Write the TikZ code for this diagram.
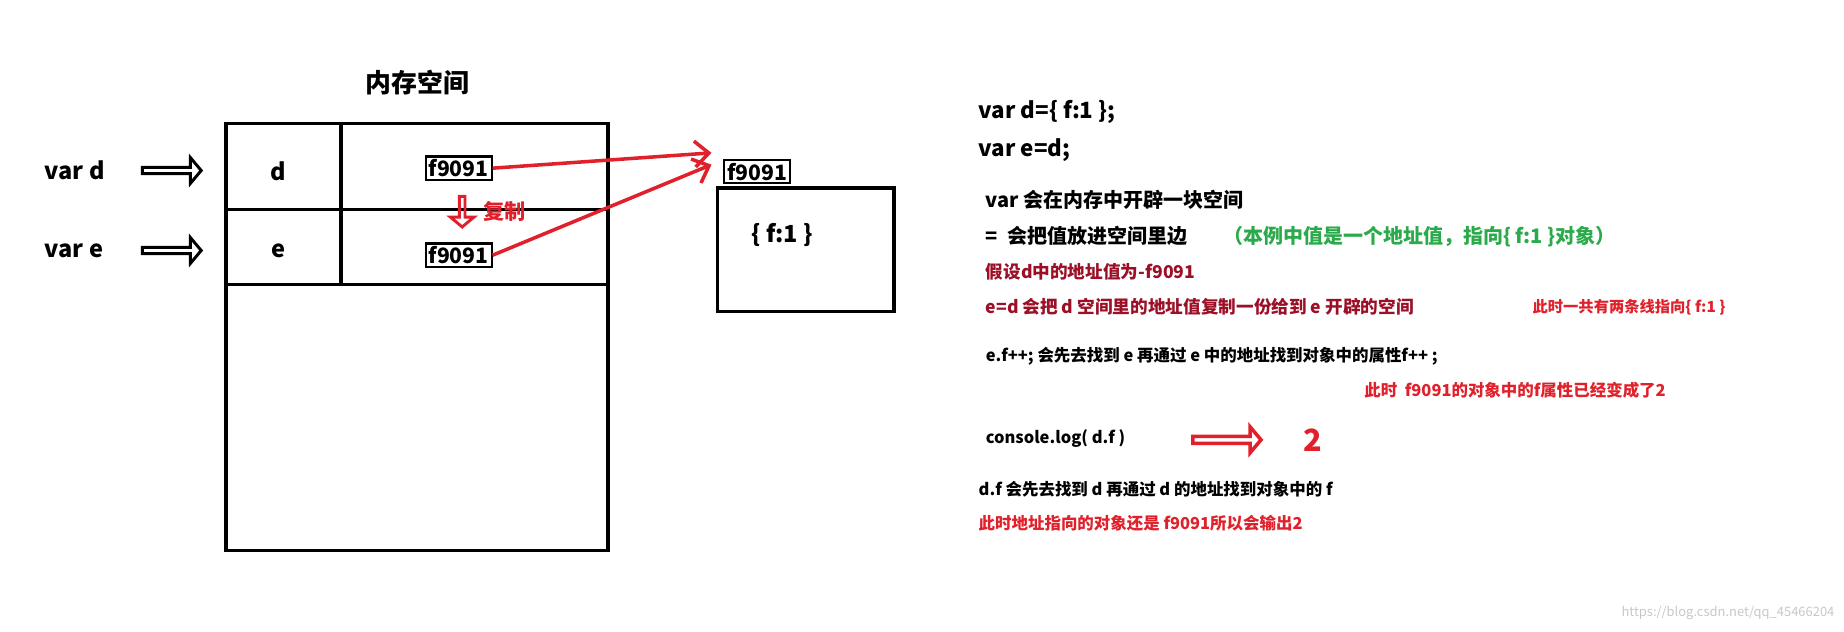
\documentclass[tikz,border=0pt]{standalone}
\usepackage{fontspec}
\setmainfont{Noto Sans CJK SC}
\usetikzlibrary{shapes.arrows,arrows.meta}
\definecolor{jsred}{HTML}{E0202A}
\definecolor{jsdark}{HTML}{9B1027}
\definecolor{jsgreen}{HTML}{2AAA4A}
\tikzset{
  txt/.style={anchor=west, inner sep=0pt, font=\bfseries\fontsize{#1}{#1}\selectfont},
  addr/.style={draw, line width=1.8pt, inner sep=2.5pt, font=\bfseries\fontsize{18}{18}\selectfont},
  hollow/.style={draw=#1, line width=2.5pt, single arrow, single arrow head extend=4pt, single arrow tip angle=100, minimum height=50pt, minimum width=22pt, inner sep=0pt},
  link/.style={jsred, line width=3pt, -{Straight Barb[length=12pt,width=22pt]}}
}
\begin{document}
\begin{tikzpicture}[x=1pt,y=-1pt]
\useasboundingbox (0,0) rectangle (1568,537);
% memory space
\node[font=\bfseries\fontsize{22}{22}\selectfont] (title) at (355,70) {内存空间};
\draw[line width=3pt] (192,105) rectangle (517,468);
\draw[line width=3pt] (192,178) -- (517,178) (192,242) -- (517,242) (290,105) -- (290,242);
\node[font=\bfseries\fontsize{20}{20}\selectfont] (d) at (237,146) {d};
\node[font=\bfseries\fontsize{20}{20}\selectfont] (e) at (237,213) {e};
\node[addr] (ad) at (390,143) {f9091};
\node[addr] (ae) at (390,217) {f9091};
\node[txt=20] (vard) at (38,145) {var d};
\node[txt=20] (vare) at (38,213) {var e};
\node[hollow=black] (pd) at (145,145) {};
\node[hollow=black] (pe) at (145,213) {};
\node[hollow=jsred, minimum height=26pt, minimum width=20pt, rotate=-90] (cp) at (393,179) {};
\node[txt=18, text=jsred] (copy) at (411,180) {复制};
% object
\node[addr] (obj) at (644,146) {f9091};
\draw[line width=3pt] (610,160) rectangle (760,265);
\node[font=\bfseries\fontsize{20}{20}\selectfont] (val) at (665,200) {\{ f:1 \}};
\draw[link] (ad.east) -- (605,130);
\draw[link] (ae.east) -- (605,140);
% notes
\node[txt=19] (l1) at (832,95) {var d=\{ f:1 \};};
\node[txt=19] (l2) at (832,128) {var e=d;};
\node[txt=17] (l3) at (838,170) {var 会在内存中开辟一块空间};
\node[txt=17] (l4) at (838,201) {= \ 会把值放进空间里边};
\node[txt=17, text=jsgreen] (l4b) at (1040,201) {（本例中值是一个地址值，指向\{ f:1 \}对象）};
\node[txt=15, text=jsdark] (l5) at (838,231) {假设d中的地址值为-f9091};
\node[txt=15, text=jsdark] (l6) at (838,261) {e=d 会把 d 空间里的地址值复制一份给到 e 开辟的空间};
\node[txt=13, text=jsred] (l6b) at (1303,261) {此时一共有两条线指向\{ f:1 \}};
\node[txt=14] (l7) at (838,303) {e.f++; 会先去找到 e 再通过 e 中的地址找到对象中的属性f++ ;};
\node[txt=14, text=jsred] (l8) at (1160,332) {此时 \ f9091的对象中的f属性已经变成了2};
\node[txt=14] (l9) at (838,373) {console.log( d.f )};
\node[hollow=jsred, line width=3pt, minimum height=58pt, minimum width=22pt] (out) at (1042,374) {};
\node[txt=26, text=jsred] (two) at (1108,374) {2};
\node[txt=14] (l10) at (832,416) {d.f 会先去找到 d 再通过 d 的地址找到对象中的 f};
\node[txt=14, text=jsred] (l11) at (832,445) {此时地址指向的对象还是 f9091所以会输出2};
\node[anchor=east, inner sep=0pt, text=black!22, font=\fontsize{11}{11}\selectfont] (wm) at (1560,521) {https://blog.csdn.net/qq\_45466204};
\end{tikzpicture}
\end{document}
